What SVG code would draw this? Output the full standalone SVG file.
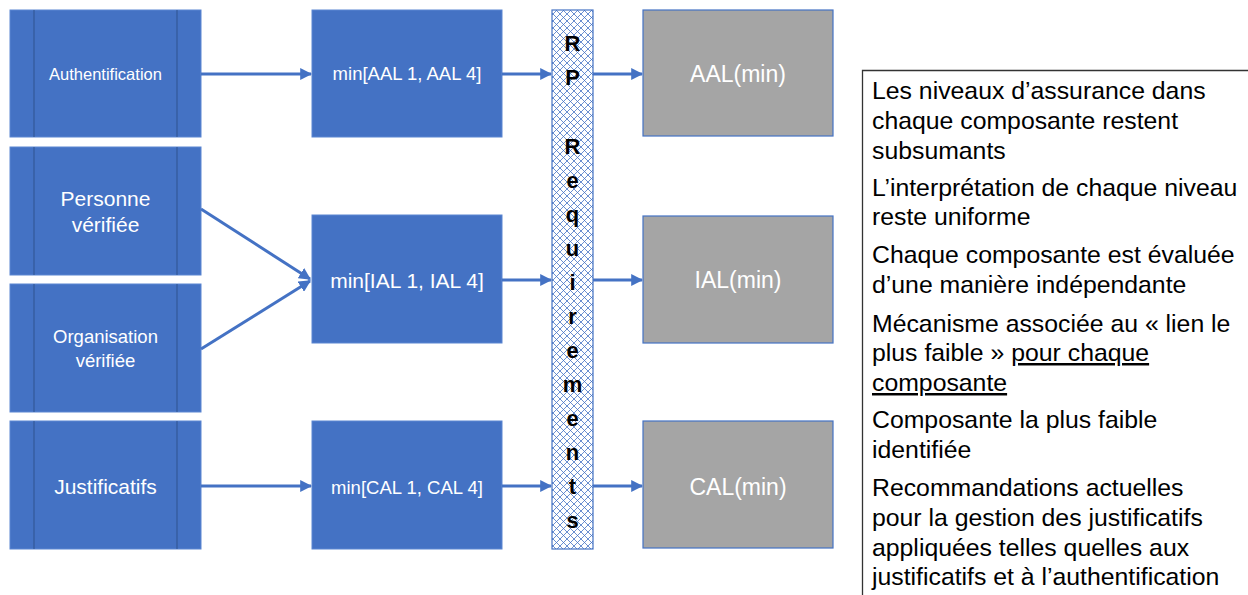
<svg xmlns="http://www.w3.org/2000/svg" width="1248" height="595" viewBox="0 0 1248 595">
<defs>
<style>
.src{fill:#4472C4;stroke:#5B86D2;stroke-width:1}
.div{stroke:#2F528F;stroke-width:1}
.mid{fill:#4472C4;stroke:#5B86D2;stroke-width:1}
.res{fill:#A5A5A5;stroke:#4472C4;stroke-width:1.2}
.wt{fill:#FFFFFF;font-family:"Liberation Sans",Arial,sans-serif;text-anchor:middle}
.rp{fill:#000;font-family:"Liberation Sans",Arial,sans-serif;font-weight:bold;font-size:22px;text-anchor:middle}
.note{fill:#000;font-family:"Liberation Sans",Arial,sans-serif;font-size:24.8px}
.conn{stroke:#4472C4;stroke-width:3;fill:none;marker-end:url(#ah)}
</style>
<marker id="ah" viewBox="0 0 10 10" refX="9" refY="5" markerWidth="4" markerHeight="4" orient="auto" markerUnits="strokeWidth">
<path d="M0,0 L10,5 L0,10 z" fill="#4472C4"/>
</marker>
<pattern id="hatch" width="7" height="7" patternUnits="userSpaceOnUse">
<rect width="7" height="7" fill="#FFFFFF"/>
<path d="M0,0 L7,7 M7,0 L0,7" stroke="#4472C4" stroke-width="0.8"/>
</pattern>
</defs>

<g id="n-auth">
<rect class="src" x="10" y="10" width="191" height="127"/>
<line class="div" x1="34" y1="10" x2="34" y2="137"/>
<line class="div" x1="177" y1="10" x2="177" y2="137"/>
<text class="wt" x="105.5" y="80" font-size="16.5">Authentification</text>
</g>
<g id="n-personne">
<rect class="src" x="10" y="147" width="191" height="128"/>
<line class="div" x1="34" y1="147" x2="34" y2="275"/>
<line class="div" x1="177" y1="147" x2="177" y2="275"/>
<text class="wt" x="105.5" y="206" font-size="21">Personne</text>
<text class="wt" x="105.5" y="232" font-size="21">vérifiée</text>
</g>
<g id="n-organisation">
<rect class="src" x="10" y="284" width="191" height="128"/>
<line class="div" x1="34" y1="284" x2="34" y2="412"/>
<line class="div" x1="177" y1="284" x2="177" y2="412"/>
<text class="wt" x="105.5" y="343" font-size="18.5">Organisation</text>
<text class="wt" x="105.5" y="367" font-size="18.5">vérifiée</text>
</g>
<g id="n-justif">
<rect class="src" x="10" y="421" width="191" height="128"/>
<line class="div" x1="34" y1="421" x2="34" y2="549"/>
<line class="div" x1="177" y1="421" x2="177" y2="549"/>
<text class="wt" x="105.5" y="494" font-size="21">Justificatifs</text>
</g>

<g id="n-min-aal">
<rect class="mid" x="312" y="10" width="190" height="127"/>
<text class="wt" x="407" y="80" font-size="18.5">min[AAL 1, AAL 4]</text>
</g>
<g id="n-min-ial">
<rect class="mid" x="312" y="215" width="190" height="128"/>
<text class="wt" x="407" y="288" font-size="21">min[IAL 1, IAL 4]</text>
</g>
<g id="n-min-cal">
<rect class="mid" x="312" y="421" width="190" height="128"/>
<text class="wt" x="407" y="494" font-size="18.5">min[CAL 1, CAL 4]</text>
</g>

<g id="n-rp">
<rect x="552" y="10" width="41" height="539" fill="url(#hatch)" stroke="#4472C4" stroke-width="1.2"/>
<text class="rp" x="572.5" y="51">R</text>
<text class="rp" x="572.5" y="85">P</text>
<text class="rp" x="572.5" y="154">R</text>
<text class="rp" x="572.5" y="188">e</text>
<text class="rp" x="572.5" y="222">q</text>
<text class="rp" x="572.5" y="256">u</text>
<text class="rp" x="572.5" y="290">i</text>
<text class="rp" x="572.5" y="324">r</text>
<text class="rp" x="572.5" y="358">e</text>
<text class="rp" x="572.5" y="392">m</text>
<text class="rp" x="572.5" y="426">e</text>
<text class="rp" x="572.5" y="460">n</text>
<text class="rp" x="572.5" y="494">t</text>
<text class="rp" x="572.5" y="528">s</text>
</g>

<g id="n-aal">
<rect class="res" x="643" y="10" width="190" height="126"/>
<text class="wt" x="738" y="82" font-size="23">AAL(min)</text>
</g>
<g id="n-ial">
<rect class="res" x="643" y="216" width="190" height="127"/>
<text class="wt" x="738" y="288" font-size="23">IAL(min)</text>
</g>
<g id="n-cal">
<rect class="res" x="643" y="421" width="190" height="127"/>
<text class="wt" x="738" y="495" font-size="23">CAL(min)</text>
</g>

<g id="n-notes">
<path d="M862.5,595 L862.5,70.5 L1248,70.5" fill="none" stroke="#333333" stroke-width="1.3"/>
<text class="note" x="872" y="99">Les niveaux d’assurance dans</text>
<text class="note" x="872" y="129">chaque composante restent</text>
<text class="note" x="872" y="159">subsumants</text>
<text class="note" x="872" y="196">L’interprétation de chaque niveau</text>
<text class="note" x="872" y="225">reste uniforme</text>
<text class="note" x="872" y="263">Chaque composante est évaluée</text>
<text class="note" x="872" y="293">d’une manière indépendante</text>
<text class="note" x="872" y="332">Mécanisme associée au « lien le</text>
<text class="note" x="872" y="361">plus faible » <tspan text-decoration="underline">pour chaque</tspan></text>
<text class="note" x="872" y="391" text-decoration="underline">composante</text>
<text class="note" x="872" y="428">Composante la plus faible</text>
<text class="note" x="872" y="458">identifiée</text>
<text class="note" x="872" y="496">Recommandations actuelles</text>
<text class="note" x="872" y="526">pour la gestion des justificatifs</text>
<text class="note" x="872" y="556">appliquées telles quelles aux</text>
<text class="note" x="872" y="585">justificatifs et à l’authentification</text>
</g>

<g id="connectors">
<line class="conn" x1="201" y1="74" x2="311" y2="74"/>
<line class="conn" x1="201" y1="209" x2="310" y2="279"/>
<line class="conn" x1="201" y1="349" x2="310" y2="281"/>
<line class="conn" x1="201" y1="486" x2="311" y2="486"/>
<line class="conn" x1="502" y1="74" x2="551" y2="74"/>
<line class="conn" x1="502" y1="280" x2="551" y2="280"/>
<line class="conn" x1="502" y1="486" x2="551" y2="486"/>
<line class="conn" x1="593" y1="74" x2="642" y2="74"/>
<line class="conn" x1="593" y1="280" x2="642" y2="280"/>
<line class="conn" x1="593" y1="486" x2="642" y2="486"/>
</g>
</svg>
